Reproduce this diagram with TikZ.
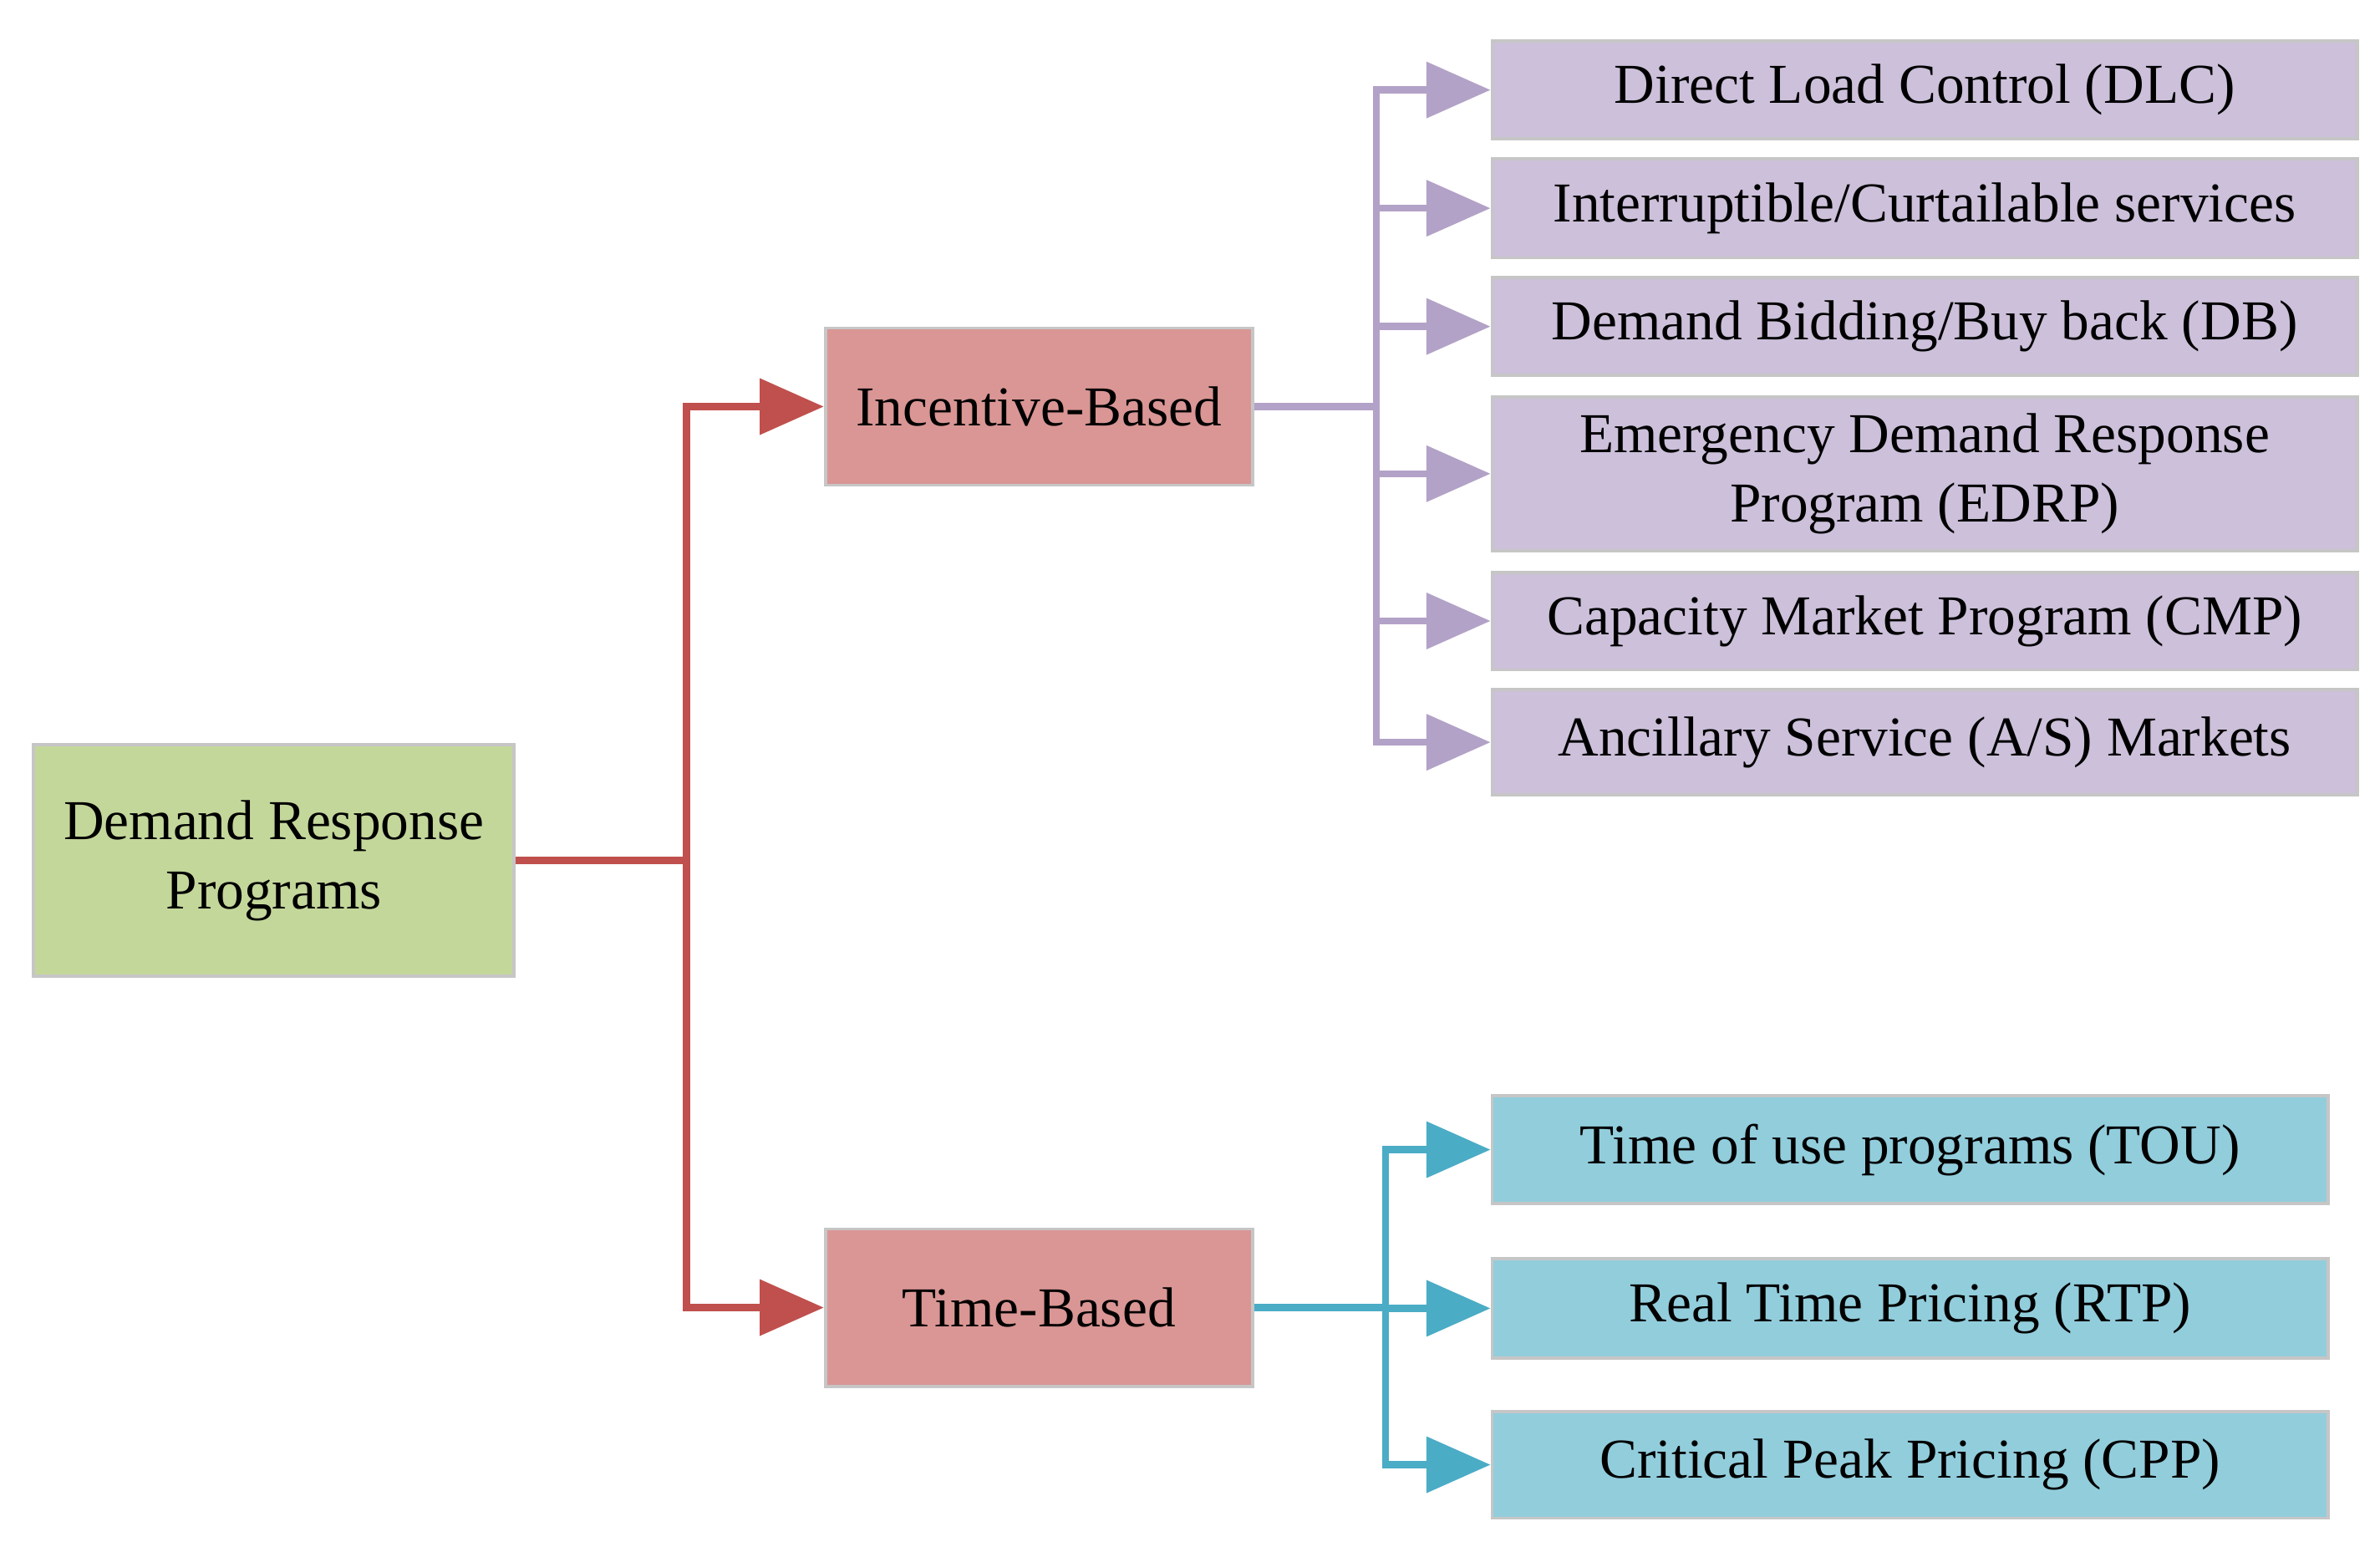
\documentclass[tikz,border=0pt]{standalone}
\usepackage{fontspec}
\setmainfont{Liberation Serif}
\usetikzlibrary{arrows.meta, positioning, calc}

\definecolor{rootfill}{HTML}{C4D79B}
\definecolor{midfill}{HTML}{D99694}
\definecolor{incfill}{HTML}{CCC0DA}
\definecolor{timefill}{HTML}{92CDDC}
\definecolor{redline}{HTML}{C0504D}
\definecolor{purpline}{HTML}{B3A2C7}
\definecolor{blueline}{HTML}{4BACC6}

\tikzset{
	box/.style = {draw=gray!45, line width=0.6pt, align=center, inner sep=0pt, font=\fontsize{10.5}{13}\selectfont},
	root/.style = {box, fill=rootfill, minimum width=3.15cm, minimum height=1.52cm},
	mid/.style = {box, fill=midfill, minimum width=2.8cm, minimum height=1.03cm},
	inc/.style = {box, fill=incfill, minimum width=5.67cm},
	tim/.style = {box, fill=timefill, minimum width=5.48cm},
	link/.style = {line width=1.3pt, -{Triangle[length=0.42cm, width=0.36cm]}},
}

\begin{document}
\begin{tikzpicture}
				\useasboundingbox (0,0) rectangle (15.6,10.17);
				
				% root and middle level
				\node[root] (drp) at (1.795, 4.53) {Demand Response\\Programs};
				\node[mid] (inc) at (6.81, 7.505) {Incentive-Based};
				\node[mid] (tb) at (6.81, 1.60) {Time-Based};
				
				% incentive-based programs
				\node[inc, minimum height=0.64cm] (dlc) at (12.615, 9.58) {Direct Load Control (DLC)};
				\node[inc, minimum height=0.65cm] (ics) at (12.615, 8.805) {Interruptible/Curtailable services};
				\node[inc, minimum height=0.64cm] (db) at (12.615, 8.03) {Demand Bidding/Buy back (DB)};
				\node[inc, minimum height=1.01cm] (edrp) at (12.615, 7.065) {Emergency Demand Response\\Program (EDRP)};
				\node[inc, minimum height=0.64cm] (cmp) at (12.615, 6.10) {Capacity Market Program (CMP)};
				\node[inc, minimum height=0.69cm] (as) at (12.615, 5.305) {Ancillary Service (A/S) Markets};
				
				% time-based programs
				\node[tim, minimum height=0.71cm] (tou) at (12.52, 2.635) {Time of use programs (TOU)};
				\node[tim, minimum height=0.65cm] (rtp) at (12.52, 1.595) {Real Time Pricing (RTP)};
				\node[tim, minimum height=0.70cm] (cpp) at (12.52, 0.57) {Critical Peak Pricing (CPP)};
				
				% connectors
				\coordinate (rj) at (4.5, 4.53);
				\coordinate (pj) at (9.02, 7.505);
				\coordinate (bj) at (9.08, 1.60);
				
				\draw [redline, line width=1.3pt] (drp.east) -- (rj);
				\foreach \t in {inc, tb}
					\draw [link, redline] (rj) |- (\t.west);
				
				\draw [purpline, line width=1.3pt] (inc.east) -- (pj);
				\foreach \t in {dlc, ics, db, edrp, cmp, as}
					\draw [link, purpline] (pj) |- (\t.west);
				
				\draw [blueline, line width=1.3pt] (tb.east) -- (bj);
				\foreach \t in {tou, rtp, cpp}
					\draw [link, blueline] (bj) |- (\t.west);
				
			\end{tikzpicture}
\end{document}
